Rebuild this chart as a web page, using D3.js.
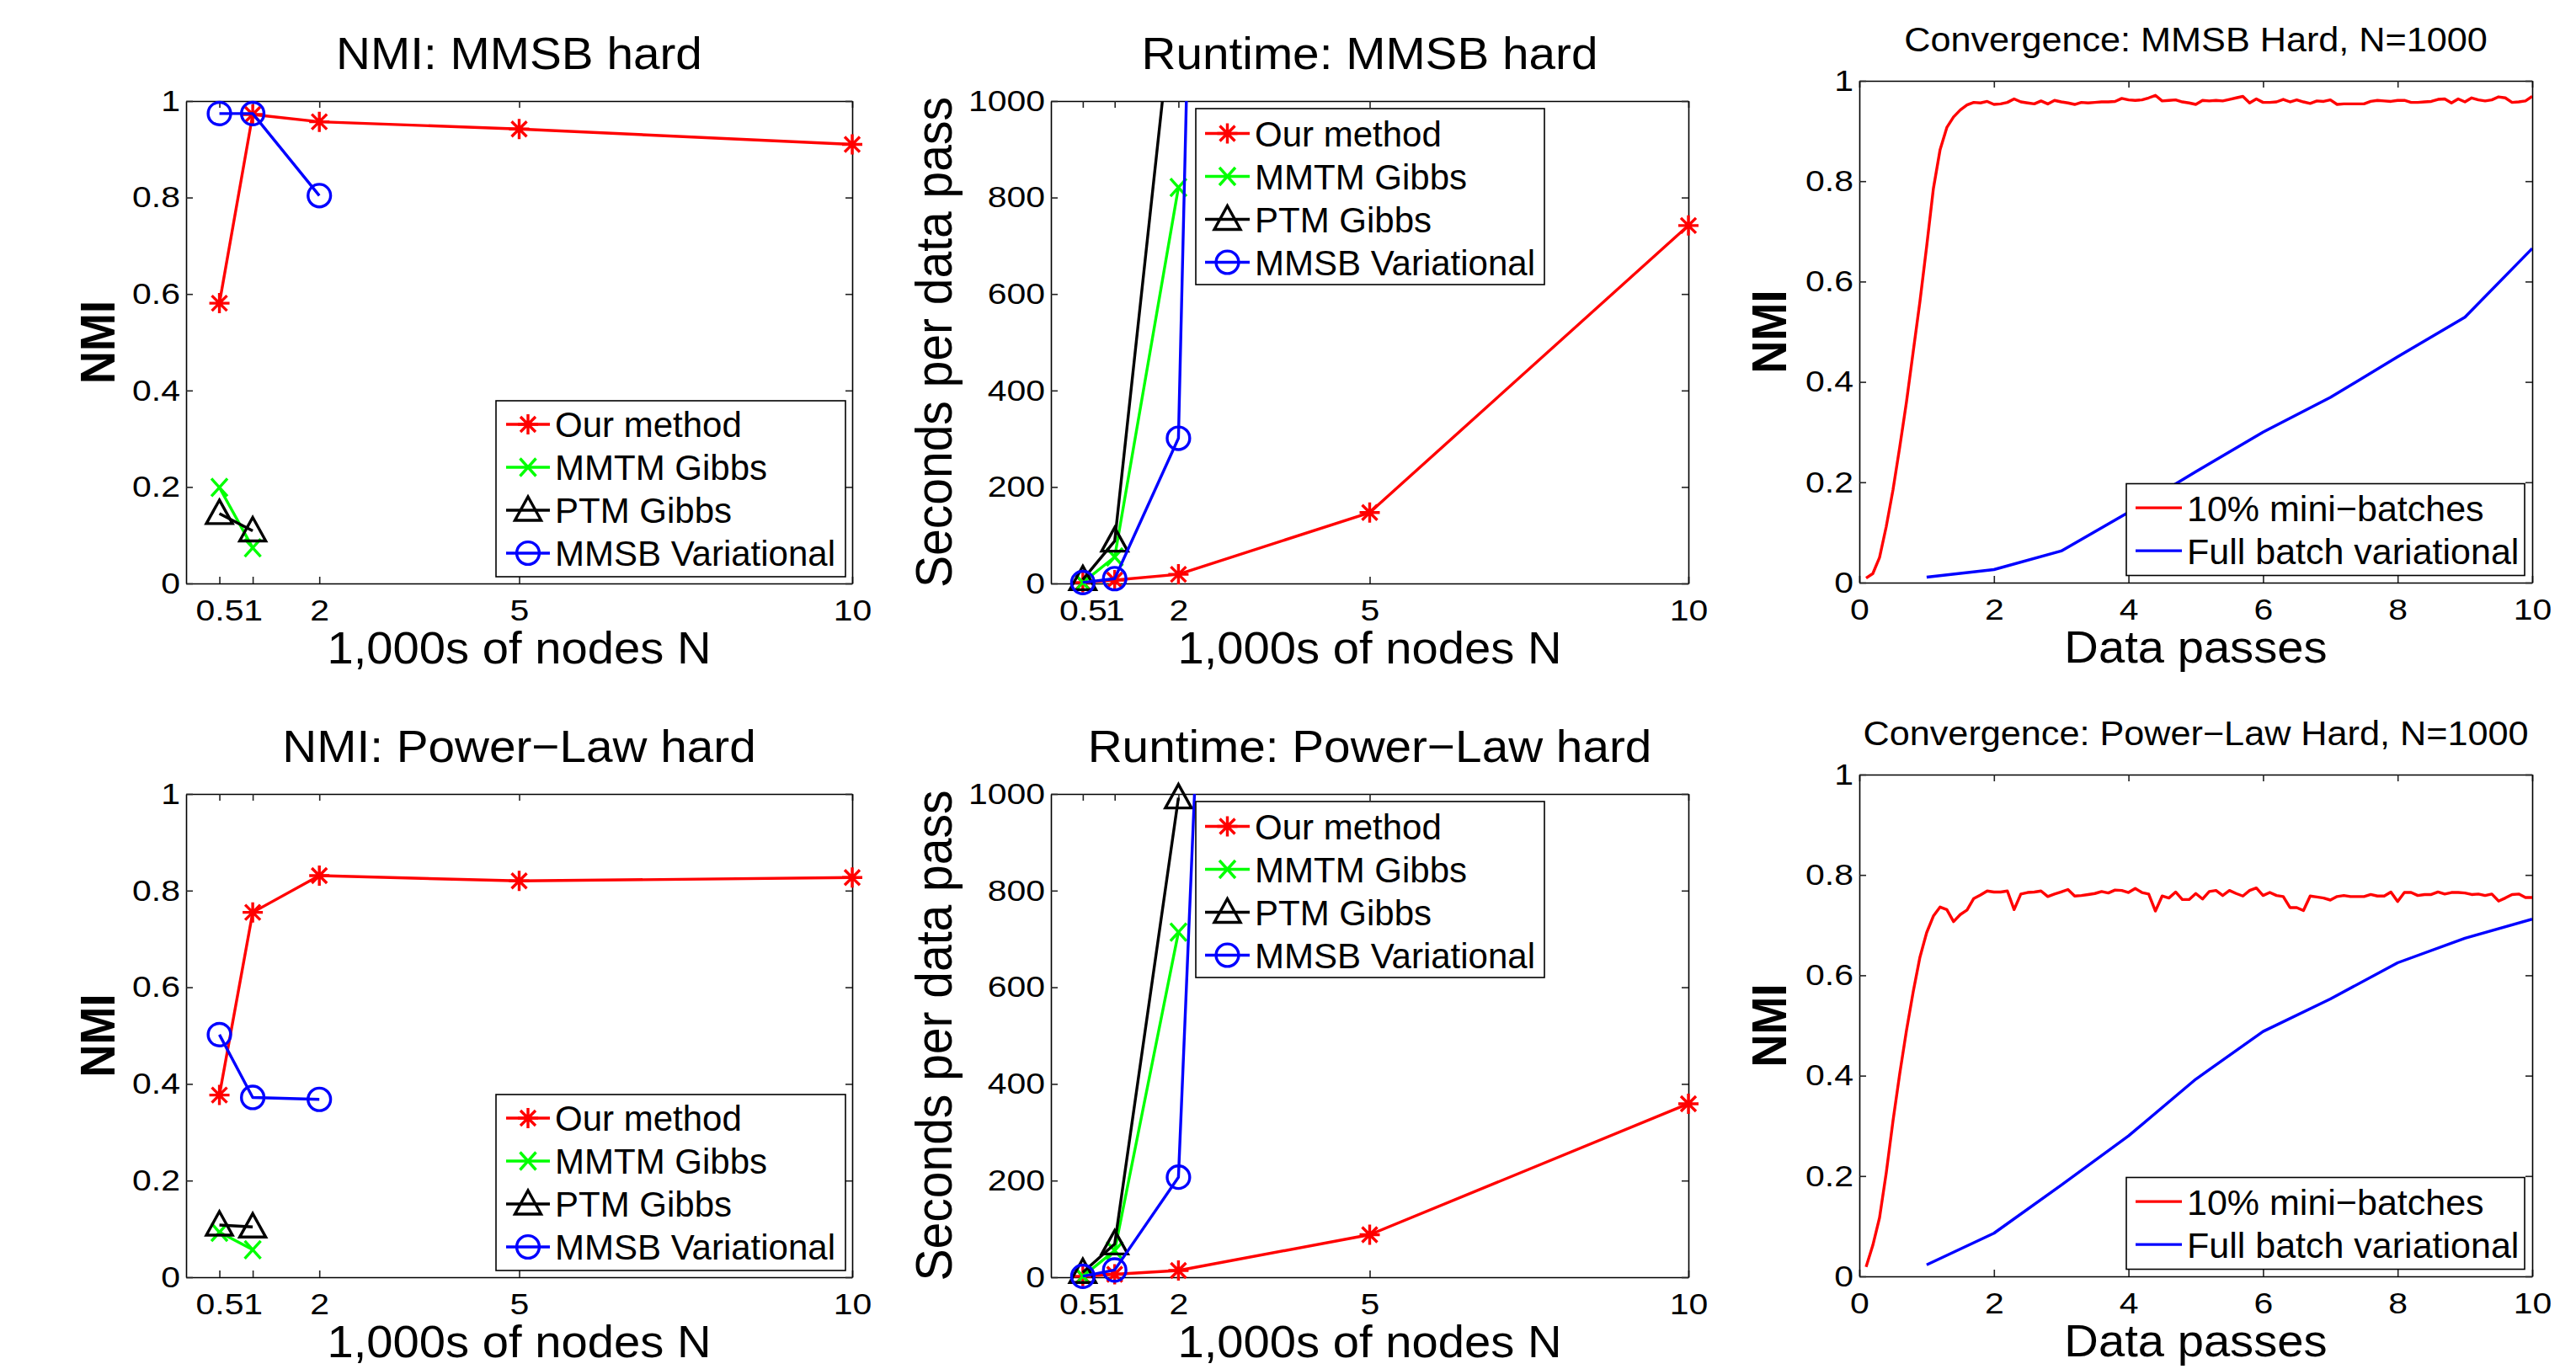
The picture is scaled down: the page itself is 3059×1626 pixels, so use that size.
<!DOCTYPE html>
<html>
<head>
<meta charset="utf-8">
<script src="https://cdn.jsdelivr.net/npm/d3@7"></script>
<style>
body { margin: 0; background: #fff; }
text { font-family: "Liberation Sans", Arial, Helvetica, sans-serif; fill: #000; }
</style>
</head>
<body>
<svg width="3059" height="1626"></svg>
<script>
// ---- data ----
const nodes = [0.5, 1, 2, 5, 10]            // 1,000s of nodes
const nodeTicks = [0.5, 1, 2, 5, 10]
const nmiTicks = [0, 0.2, 0.4, 0.6, 0.8, 1]
const secTicks = [0, 200, 400, 600, 800, 1000]
const passTicks = [0, 2, 4, 6, 8, 10]

const methods = ['Our method', 'MMTM Gibbs', 'PTM Gibbs', 'MMSB Variational']
const methodColors = ['#ff0000', '#00ff00', '#000000', '#0000ff']
const methodMarkers = ['star', 'x', 'tri', 'circle']

// NMI: MMSB hard
const nmiMmsbOurs = [0.581, 0.972, 0.957, 0.942, 0.910]
const nmiMmsbMmtm = [0.199, 0.074, null, null, null]
const nmiMmsbPtm = [0.145, 0.109, null, null, null]
const nmiMmsbVar = [0.974, 0.974, 0.804, null, null]

// Runtime: MMSB hard (seconds per data pass)
const secMmsbOurs = [2, 7, 19, 147, 742]
const secMmsbMmtm = [2, 55, 821, null, null]
const secMmsbPtm = [8, 88, 1307, null, null]
const secMmsbVar = [2, 10, 301, 17200, null]

// NMI: Power-Law hard
const nmiPlOurs = [0.377, 0.755, 0.831, 0.820, 0.827]
const nmiPlMmtm = [0.093, 0.057, null, null, null]
const nmiPlPtm = [0.108, 0.104, null, null, null]
const nmiPlVar = [0.502, 0.372, 0.368, null, null]

// Runtime: Power-Law hard
const secPlOurs = [2, 6, 14, 88, 359]
const secPlMmtm = [2, 55, 714, null, null]
const secPlPtm = [10, 69, 992, null, null]
const secPlVar = [2, 15, 207, 9650, null]

// Convergence, N=1000
const convNames = ['10% mini\u2212batches', 'Full batch variational']
const convColors = ['#ff0000', '#0000ff']
const passes = [0.1, 0.2, 0.3, 0.4, 0.5, 0.6, 0.7, 0.8, 0.9, 1.0,
  1.1, 1.2, 1.3, 1.4, 1.5, 1.6, 1.7, 1.8, 1.9, 2.0,
  2.1, 2.2, 2.3, 2.4, 2.5, 2.6, 2.7, 2.8, 2.9, 3.0,
  3.1, 3.2, 3.3, 3.4, 3.5, 3.6, 3.7, 3.8, 3.9, 4.0,
  4.1, 4.2, 4.3, 4.4, 4.5, 4.6, 4.7, 4.8, 4.9, 5.0,
  5.1, 5.2, 5.3, 5.4, 5.5, 5.6, 5.7, 5.8, 5.9, 6.0,
  6.1, 6.2, 6.3, 6.4, 6.5, 6.6, 6.7, 6.8, 6.9, 7.0,
  7.1, 7.2, 7.3, 7.4, 7.5, 7.6, 7.7, 7.8, 7.9, 8.0,
  8.1, 8.2, 8.3, 8.4, 8.5, 8.6, 8.7, 8.8, 8.9, 9.0,
  9.1, 9.2, 9.3, 9.4, 9.5, 9.6, 9.7, 9.8, 9.9, 10.0]
const fullPasses = [1, 2, 3, 4, 5, 6, 7, 8, 9, 10]

const convMmsbMini = [0.009, 0.018, 0.050, 0.112, 0.185, 0.270, 0.360, 0.460, 0.560, 0.670,
  0.785, 0.863, 0.907, 0.928, 0.942, 0.952, 0.957, 0.956, 0.959, 0.953,
  0.954, 0.957, 0.964, 0.958, 0.956, 0.954, 0.960, 0.954, 0.961, 0.958,
  0.956, 0.953, 0.957, 0.956, 0.957, 0.958, 0.958, 0.959, 0.965, 0.962,
  0.961, 0.962, 0.966, 0.971, 0.960, 0.961, 0.962, 0.958, 0.956, 0.953,
  0.961, 0.960, 0.961, 0.960, 0.963, 0.966, 0.969, 0.956, 0.964, 0.957,
  0.957, 0.958, 0.963, 0.958, 0.962, 0.958, 0.955, 0.960, 0.959, 0.962,
  0.953, 0.954, 0.954, 0.954, 0.954, 0.959, 0.961, 0.960, 0.959, 0.961,
  0.961, 0.957, 0.957, 0.958, 0.959, 0.963, 0.964, 0.956, 0.964, 0.958,
  0.966, 0.962, 0.960, 0.962, 0.968, 0.966, 0.957, 0.958, 0.960, 0.969]
const convMmsbFull = [0.011, 0.026, 0.063, 0.140, 0.221, 0.300, 0.369, 0.450, 0.529, 0.666]

const convPlMini = [0.019, 0.062, 0.117, 0.207, 0.310, 0.404, 0.490, 0.567, 0.636, 0.685,
  0.718, 0.736, 0.731, 0.707, 0.721, 0.730, 0.753, 0.760, 0.768, 0.766,
  0.766, 0.768, 0.731, 0.762, 0.765, 0.766, 0.768, 0.757, 0.762, 0.766,
  0.771, 0.758, 0.759, 0.761, 0.763, 0.767, 0.764, 0.770, 0.769, 0.765,
  0.773, 0.765, 0.762, 0.728, 0.758, 0.754, 0.766, 0.751, 0.751, 0.763,
  0.752, 0.767, 0.769, 0.759, 0.769, 0.763, 0.758, 0.769, 0.774, 0.759,
  0.765, 0.759, 0.757, 0.735, 0.735, 0.729, 0.758, 0.756, 0.754, 0.750,
  0.757, 0.759, 0.757, 0.757, 0.757, 0.761, 0.758, 0.758, 0.766, 0.747,
  0.765, 0.765, 0.759, 0.761, 0.761, 0.766, 0.762, 0.765, 0.765, 0.764,
  0.761, 0.762, 0.759, 0.762, 0.748, 0.754, 0.761, 0.762, 0.755, 0.755]
const convPlFull = [0.023, 0.086, 0.182, 0.280, 0.393, 0.488, 0.553, 0.625, 0.674, 0.712]

// ---- drawing ----
const svg = d3.select('svg')
const FONT_TICK = 35, STRETCH_TICK = 1.17
const LW = 3.4

// matlab export stretches the text a bit horizontally
function stretch(sel, s) {
    sel.each(function () {
        const t = d3.select(this)
        const x = +t.attr('x') || 0
        const y = +t.attr('y') || 0
        t.attr('x', 0).attr('y', 0)
            .attr('transform', `translate(${x},${y}) scale(${s},1)`)
    })
}

function markerPath(type) {
    const p = d3.path()
    if (type === 'star') {
        p.moveTo(0, -12); p.lineTo(0, 12)
        p.moveTo(-12, 0); p.lineTo(12, 0)
        p.moveTo(-9, -9); p.lineTo(9, 9)
        p.moveTo(-9, 9); p.lineTo(9, -9)
    } else if (type === 'x') {
        p.moveTo(-9.5, -10.5); p.lineTo(9.5, 10.5)
        p.moveTo(-9.5, 10.5); p.lineTo(9.5, -10.5)
    } else if (type === 'tri') {
        p.moveTo(0, -16); p.lineTo(15.5, 12); p.lineTo(-15.5, 12); p.closePath()
    } else if (type === 'circle') {
        p.moveTo(13.4, 0); p.arc(0, 0, 13.4, 0, 2 * Math.PI)
    }
    return p.toString()
}

function drawMarker(g, cx, cy, type, color) {
    g.append('path')
        .attr('d', markerPath(type))
        .attr('transform', `translate(${cx},${cy})`)
        .style('fill', 'none')
        .style('stroke', color)
        .style('stroke-width', LW)
}

function addText(g, str, x, y, size, s, opts = {}) {
    const t = g.append('text')
        .attr('x', x).attr('y', y)
        .attr('text-anchor', opts.anchor || 'middle')
        .style('font-size', size + 'px')
        .style('font-weight', opts.bold ? 'bold' : 'normal')
        .text(str)
    if (opts.dy) t.attr('dy', opts.dy)
    stretch(t, s)
    return t
}

let clipId = 0
function drawPanel(cfg) {
    const g = svg.append('g')
    const x = d3.scaleLinear().domain(cfg.xDomain).range([cfg.left, cfg.right])
    const y = d3.scaleLinear().domain(cfg.yDomain).range([cfg.bottom, cfg.top])
    const fmt = d => String(d)

    // axes, box with inward ticks on all sides
    const axes = [
        [d3.axisBottom(x).tickValues(cfg.xTicks).tickFormat(fmt).tickPadding(19), `translate(0,${cfg.bottom})`],
        [d3.axisTop(x).tickValues(cfg.xTicks).tickFormat(''), `translate(0,${cfg.top})`],
        [d3.axisLeft(y).tickValues(cfg.yTicks).tickFormat(fmt).tickPadding(7), `translate(${cfg.left},0)`],
        [d3.axisRight(y).tickValues(cfg.yTicks).tickFormat(''), `translate(${cfg.right},0)`]
    ]
    axes.forEach(([ax, tr]) => {
        const a = g.append('g').attr('transform', tr)
            .call(ax.tickSizeInner(-8).tickSizeOuter(0))
        a.select('.domain').style('stroke', '#000').style('stroke-width', 1.6)
        a.selectAll('.tick line').style('stroke', '#222').style('stroke-width', 1.6)
        a.selectAll('.tick text')
            .style('font-size', FONT_TICK + 'px')
            .style('font-family', '"Liberation Sans", Arial, sans-serif')
            .style('fill', '#000')
            .call(stretch, STRETCH_TICK)
    })

    // lines, clipped to the axes box
    const cid = 'clip' + (clipId++)
    g.append('clipPath').attr('id', cid)
        .append('rect')
        .attr('x', cfg.left).attr('y', cfg.top)
        .attr('width', cfg.right - cfg.left).attr('height', cfg.bottom - cfg.top)
    const line = d3.line()
        .defined(d => d[1] != null)
        .x(d => x(d[0]))
        .y(d => y(d[1]))
    cfg.series.forEach(s => {
        const pts = s.xs.map((v, i) => [v, s.ys[i]])
        g.append('path')
            .attr('d', line(pts))
            .attr('clip-path', `url(#${cid})`)
            .style('fill', 'none')
            .style('stroke', s.color)
            .style('stroke-width', LW)
            .style('stroke-linejoin', 'round')
        if (s.marker) {
            pts.filter(d => d[1] != null && d[1] <= cfg.yDomain[1])
                .forEach(d => drawMarker(g, x(d[0]), y(d[1]), s.marker, s.color))
        }
    })

    // labels
    addText(g, cfg.title, (cfg.left + cfg.right) / 2, cfg.top - cfg.titleGap, cfg.titleSize, cfg.titleStretch)
    addText(g, cfg.xLabel, (cfg.left + cfg.right) / 2, cfg.bottom + 95, 53, 1.06)
    g.append('text')
        .attr('transform', `translate(${cfg.left - cfg.yLabelGap},${(cfg.top + cfg.bottom) / 2}) scale(1.06,1) rotate(-90)`)
        .attr('text-anchor', 'middle')
        .style('font-size', cfg.yLabelSize + 'px')
        .style('font-weight', cfg.yLabelBold ? 'bold' : 'normal')
        .text(cfg.yLabel)

    // legend
    const L = cfg.legend
    const bx = L.corner === 'se' ? cfg.right - L.inset[0] - L.w : cfg.left + L.inset[0]
    const by = L.corner === 'se' ? cfg.bottom - L.inset[1] - L.h : cfg.top + L.inset[1]
    g.append('rect')
        .attr('x', bx).attr('y', by).attr('width', L.w).attr('height', L.h)
        .style('fill', '#fff').style('stroke', '#000').style('stroke-width', 1.6)
    cfg.series.forEach((s, i) => {
        const cy = by + L.first + i * 51
        g.append('path')
            .attr('d', `M${bx + L.line[0]},${cy}H${bx + L.line[1]}`)
            .style('stroke', s.color).style('stroke-width', LW)
        if (s.marker) drawMarker(g, bx + (L.line[0] + L.line[1]) / 2, cy, s.marker, s.color)
        addText(g, s.name, bx + L.textX, cy, L.size, 1, { anchor: 'start', dy: '0.36em' })
    })
}

function methodSeries(vals) {
    return vals.map((ys, i) => ({
        name: methods[i], color: methodColors[i], marker: methodMarkers[i], xs: nodes, ys: ys
    }))
}

const colX = [[221, 1012], [1248, 2005], [2208, 3007]]
const rowsLeft = [[120, 693], [943, 1517]]
const rowsConv = [[96, 692], [920, 1516]]

const legendMethodsSE = { corner: 'se', inset: [8, 8], w: 415, h: 209, first: 28, line: [12, 64], textX: 70, size: 42 }
const legendMethodsNW = { corner: 'nw', inset: [172, 9], w: 414, h: 209, first: 29.5, line: [11, 64], textX: 70, size: 42 }
const legendConv = { corner: 'se', inset: [9, 8.5], w: 473, h: 109, first: 28.6, line: [11, 66], textX: 72, size: 43 }

const nmiPanel = (row, title, vals) => ({
    left: colX[0][0], right: colX[0][1], top: rowsLeft[row][0], bottom: rowsLeft[row][1],
    xDomain: [0, 10], yDomain: [0, 1], xTicks: nodeTicks, yTicks: nmiTicks,
    title: title, titleGap: 38.4, titleSize: 53, titleStretch: 1.07,
    xLabel: '1,000s of nodes N', yLabel: 'NMI', yLabelGap: 85.5, yLabelSize: 54, yLabelBold: true,
    series: methodSeries(vals), legend: legendMethodsSE
})
const secPanel = (row, title, vals) => ({
    left: colX[1][0], right: colX[1][1], top: rowsLeft[row][0], bottom: rowsLeft[row][1],
    xDomain: [0, 10], yDomain: [0, 1000], xTicks: nodeTicks, yTicks: secTicks,
    title: title, titleGap: 38.4, titleSize: 53, titleStretch: 1.07,
    xLabel: '1,000s of nodes N', yLabel: 'Seconds per data pass', yLabelGap: 118, yLabelSize: 57, yLabelBold: false,
    series: methodSeries(vals), legend: legendMethodsNW
})
const convPanel = (row, title, mini, full) => ({
    left: colX[2][0], right: colX[2][1], top: rowsConv[row][0], bottom: rowsConv[row][1],
    xDomain: [0, 10], yDomain: [0, 1], xTicks: passTicks, yTicks: nmiTicks,
    title: title, titleGap: 34.8, titleSize: 40, titleStretch: 1.08,
    xLabel: 'Data passes', yLabel: 'NMI', yLabelGap: 87, yLabelSize: 54, yLabelBold: true,
    series: [
        { name: convNames[0], color: convColors[0], xs: passes, ys: mini },
        { name: convNames[1], color: convColors[1], xs: fullPasses, ys: full }
    ],
    legend: legendConv
})

drawPanel(nmiPanel(0, 'NMI: MMSB hard', [nmiMmsbOurs, nmiMmsbMmtm, nmiMmsbPtm, nmiMmsbVar]))
drawPanel(secPanel(0, 'Runtime: MMSB hard', [secMmsbOurs, secMmsbMmtm, secMmsbPtm, secMmsbVar]))
drawPanel(convPanel(0, 'Convergence: MMSB Hard, N=1000', convMmsbMini, convMmsbFull))
drawPanel(nmiPanel(1, 'NMI: Power\u2212Law hard', [nmiPlOurs, nmiPlMmtm, nmiPlPtm, nmiPlVar]))
drawPanel(secPanel(1, 'Runtime: Power\u2212Law hard', [secPlOurs, secPlMmtm, secPlPtm, secPlVar]))
drawPanel(convPanel(1, 'Convergence: Power\u2212Law Hard, N=1000', convPlMini, convPlFull))
</script>
</body>
</html>
